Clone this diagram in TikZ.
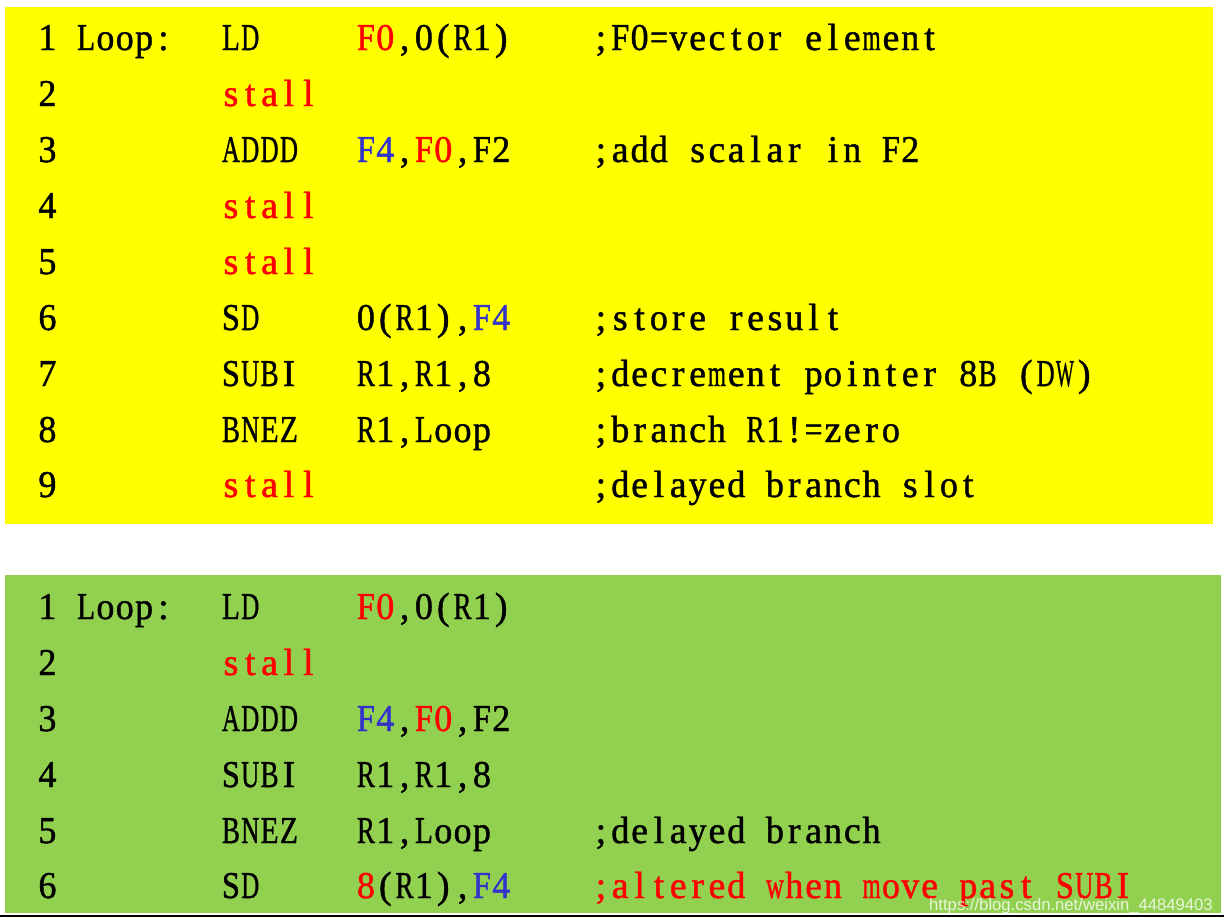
\documentclass[tikz,border=0pt]{standalone}
\usepackage{xcolor}
\usepackage{fontspec}
\setmainfont{Liberation Serif}[FakeBold=1.2]
\newfontfamily\markfont{Liberation Sans}
\usepackage{tikz}

\definecolor{slideyellow}{RGB}{255,255,0}
\definecolor{slidegreen}{RGB}{146,208,80}
\definecolor{regred}{RGB}{255,0,0}
\definecolor{regblue}{RGB}{51,51,204}

%one fixed cell per character, wide glyphs squeezed into it
\newlength\cw
\setlength\cw{14.5pt}
\newlength\cwfill
\setlength\cwfill{13.5pt}
\ExplSyntaxOn
\box_new:N \l_cell_box
\NewDocumentCommand \mono { m }
  {
    \str_map_inline:nn { #1 }
      {
        \hbox_set:Nn \l_cell_box { ##1 }
        \dim_compare:nNnT { \box_wd:N \l_cell_box } > { \cwfill }
          {
            \box_scale:Nnn \l_cell_box
              { \dim_ratio:nn { \cwfill } { \box_wd:N \l_cell_box } } { 1 }
          }
        \makebox[\cw][c]{ \box_use:N \l_cell_box }
      }
  }
\ExplSyntaxOff
\newcommand{\rd}[1]{\textcolor{regred}{\mono{#1}}}
\newcommand{\bl}[1]{\textcolor{regblue}{\mono{#1}}}

\begin{document}
\begin{tikzpicture}[x=0.75pt,y=0.75pt,yscale=-1,xscale=1,
  code/.style={anchor=base west,inner sep=0pt,font=\fontsize{28.4}{30}\selectfont}]
\useasboundingbox (0,0) rectangle (1224,922);

%Shape: Rectangle [id:yellowpanel]
\draw [draw=none,fill=slideyellow] (5,7) rectangle (1213,524);
%Shape: Rectangle [id:greenpanel]
\draw [draw=none,fill=slidegreen] (5,575) rectangle (1221,913);
%Straight Lines [id:bottomrule]
\draw [line width=1.5] (0,915.5) -- (1224,915.5);

%----- first listing
% Text Node
\draw (37.5,50) node [code] (ynum1) {\mono{1 Loop:}};
% Text Node
\draw (221,50) node [code] (yop1) {\mono{LD}};
% Text Node
\draw (356,50) node [code] (yarg1) {\rd{F0}\mono{,0(R1)}};
% Text Node
\draw (591,50) node [code] (ycom1) {\mono{;F0=vector element}};

% Text Node
\draw (37.5,106) node [code] (ynum2) {\mono{2}};
% Text Node
\draw (221,106) node [code] (yop2) {\rd{stall}};

% Text Node
\draw (37.5,162) node [code] (ynum3) {\mono{3}};
% Text Node
\draw (221,162) node [code] (yop3) {\mono{ADDD}};
% Text Node
\draw (356,162) node [code] (yarg3) {\bl{F4}\mono{,}\rd{F0}\mono{,F2}};
% Text Node
\draw (591,162) node [code] (ycom3) {\mono{;add scalar in F2}};

% Text Node
\draw (37.5,218) node [code] (ynum4) {\mono{4}};
% Text Node
\draw (221,218) node [code] (yop4) {\rd{stall}};

% Text Node
\draw (37.5,274) node [code] (ynum5) {\mono{5}};
% Text Node
\draw (221,274) node [code] (yop5) {\rd{stall}};

% Text Node
\draw (37.5,330) node [code] (ynum6) {\mono{6}};
% Text Node
\draw (221,330) node [code] (yop6) {\mono{SD}};
% Text Node
\draw (356,330) node [code] (yarg6) {\mono{0(R1),}\bl{F4}};
% Text Node
\draw (591,330) node [code] (ycom6) {\mono{;store result}};

% Text Node
\draw (37.5,386) node [code] (ynum7) {\mono{7}};
% Text Node
\draw (221,386) node [code] (yop7) {\mono{SUBI}};
% Text Node
\draw (356,386) node [code] (yarg7) {\mono{R1,R1,8}};
% Text Node
\draw (591,386) node [code] (ycom7) {\mono{;decrement pointer 8B (DW)}};

% Text Node
\draw (37.5,442) node [code] (ynum8) {\mono{8}};
% Text Node
\draw (221,442) node [code] (yop8) {\mono{BNEZ}};
% Text Node
\draw (356,442) node [code] (yarg8) {\mono{R1,Loop}};
% Text Node
\draw (591,442) node [code] (ycom8) {\mono{;branch R1!=zero}};

% Text Node
\draw (37.5,497) node [code] (ynum9) {\mono{9}};
% Text Node
\draw (221,497) node [code] (yop9) {\rd{stall}};
% Text Node
\draw (591,497) node [code] (ycom9) {\mono{;delayed branch slot}};

%----- scheduled listing
% Text Node
\draw (37.5,619) node [code] (gnum1) {\mono{1 Loop:}};
% Text Node
\draw (221,619) node [code] (gop1) {\mono{LD}};
% Text Node
\draw (356,619) node [code] (garg1) {\rd{F0}\mono{,0(R1)}};

% Text Node
\draw (37.5,675) node [code] (gnum2) {\mono{2}};
% Text Node
\draw (221,675) node [code] (gop2) {\rd{stall}};

% Text Node
\draw (37.5,731) node [code] (gnum3) {\mono{3}};
% Text Node
\draw (221,731) node [code] (gop3) {\mono{ADDD}};
% Text Node
\draw (356,731) node [code] (garg3) {\bl{F4}\mono{,}\rd{F0}\mono{,F2}};

% Text Node
\draw (37.5,787) node [code] (gnum4) {\mono{4}};
% Text Node
\draw (221,787) node [code] (gop4) {\mono{SUBI}};
% Text Node
\draw (356,787) node [code] (garg4) {\mono{R1,R1,8}};

% Text Node
\draw (37.5,843) node [code] (gnum5) {\mono{5}};
% Text Node
\draw (221,843) node [code] (gop5) {\mono{BNEZ}};
% Text Node
\draw (356,843) node [code] (garg5) {\mono{R1,Loop}};
% Text Node
\draw (591,843) node [code] (gcom5) {\mono{;delayed branch}};

% Text Node
\draw (37.5,898) node [code] (gnum6) {\mono{6}};
% Text Node
\draw (221,898) node [code] (gop6) {\mono{SD}};
% Text Node
\draw (356,898) node [code] (garg6) {\rd{8}\mono{(R1),}\bl{F4}};
% Text Node
\draw (591,898) node [code] (gcom6) {\rd{;altered when move past SUBI}};

% Text Node
\draw (1213,910) node [anchor=base east,inner sep=0pt,text=white,text opacity=0.8,font=\markfont\fontsize{12.5}{14}\selectfont] (mark) {https://blog.csdn.net/weixin\_44849403};

\end{tikzpicture}
\end{document}
